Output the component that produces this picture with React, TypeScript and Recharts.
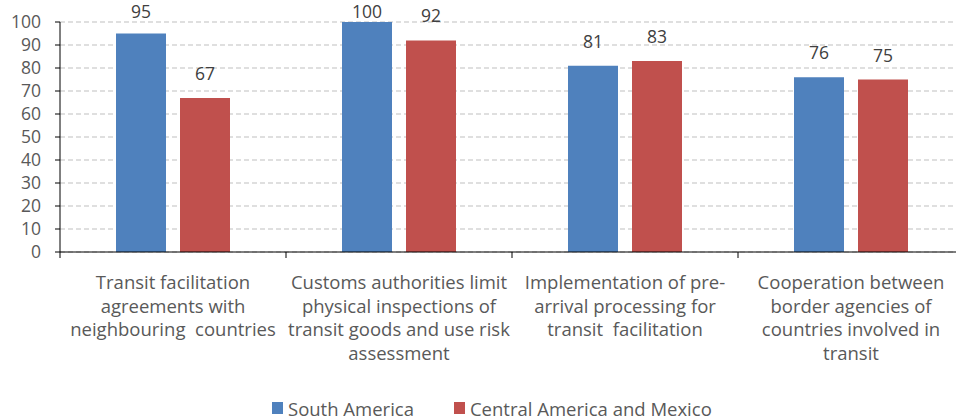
import { BarChart, Bar, XAxis, YAxis, CartesianGrid, LabelList, Legend } from 'recharts';

const categories = [
  'Transit facilitation\nagreements with\nneighbouring  countries',
  'Customs authorities limit\nphysical inspections of\ntransit goods and use risk\nassessment',
  'Implementation of pre-\narrival processing for\ntransit  facilitation',
  'Cooperation between\nborder agencies of\ncountries involved in\ntransit',
];
const southAmerica = [95, 100, 81, 76];
const centralAmerica = [67, 92, 83, 75];
const yTicks = [0, 10, 20, 30, 40, 50, 60, 70, 80, 90, 100];

const series = [
  { key: 'south', name: 'South America', color: '#4F81BD' },
  { key: 'central', name: 'Central America and Mexico', color: '#C0504D' },
];

const data = categories.map((c, i) => ({
  category: c,
  south: southAmerica[i],
  central: centralAmerica[i],
}));

const FONT = '"Open Sans", sans-serif';

const CategoryTick = ({ x, y, payload, index, visibleTicksCount }: any) => {
  const lines = String(payload.value).split('\n');
  const half = payload.offset ?? 0;
  return (
    <g>
      <line x1={x - half} x2={x - half} y1={y - 8} y2={y - 2} stroke="#000" />
      {index === visibleTicksCount - 1 && (
        <line x1={x + half} x2={x + half} y1={y - 8} y2={y - 2} stroke="#000" />
      )}
      <text
        x={x}
        y={y + 29}
        textAnchor="middle"
        fill="#595959"
        fontSize={18.5}
        fontFamily={FONT}
        style={{ whiteSpace: 'pre' }}
      >
        {lines.map((l, i) => (
          <tspan key={i} x={x} dy={i === 0 ? 0 : 23.5}>
            {l}
          </tspan>
        ))}
      </text>
    </g>
  );
};

// value label above each bar, kept inside the top of the picture
const ValueLabel = ({ x, y, width, value }: any) => (
  <text
    x={x + width / 2}
    y={Math.max(y - 18, 18)}
    textAnchor="middle"
    fill="#404040"
    fontSize={17.5}
    fontFamily={FONT}
  >
    {value}
  </text>
);

const LegendContent = () => (
  <div
    style={{
      display: 'flex',
      alignItems: 'center',
      height: 38,
      paddingTop: 14,
      paddingLeft: 272,
      boxSizing: 'border-box',
      fontFamily: FONT,
      fontSize: 18.5,
      color: '#595959',
    }}
  >
    {series.map((s, i) => (
      <div key={s.key} style={{ display: 'flex', alignItems: 'center', marginLeft: i ? 40 : 0 }}>
        <div style={{ width: 11, height: 12, background: s.color, marginRight: 5 }} />
        <span>{s.name}</span>
      </div>
    ))}
  </div>
);

export default function App() {
  return (
    <div style={{ position: 'fixed', left: 0, top: 0, width: 956, height: 420, overflow: 'hidden', background: '#fff' }}>
      <BarChart
        width={980}
        height={420}
        data={data}
        margin={{ top: 22, right: 16, bottom: 0, left: 0 }}
        barSize={50}
        barGap={14}
      >
        <CartesianGrid vertical={false} stroke="#bfbfbf" strokeDasharray="5 3" />
        <XAxis
          dataKey="category"
          height={130}
          axisLine={{ stroke: '#000' }}
          tickLine={false}
          tick={<CategoryTick />}
          interval={0}
        />
        <YAxis
          width={60}
          domain={[0, 100]}
          ticks={yTicks}
          interval={0}
          axisLine={{ stroke: '#000' }}
          tickLine={{ stroke: '#000' }}
          tickSize={5}
          tick={{ fill: '#595959', fontSize: 17.5, fontFamily: FONT }}
          tickMargin={14}
        />
        <Legend verticalAlign="bottom" content={<LegendContent />} />
        {series.map((s) => (
          <Bar key={s.key} dataKey={s.key} name={s.name} fill={s.color} isAnimationActive={false}>
            <LabelList dataKey={s.key} content={<ValueLabel />} />
          </Bar>
        ))}
      </BarChart>
    </div>
  );
}
